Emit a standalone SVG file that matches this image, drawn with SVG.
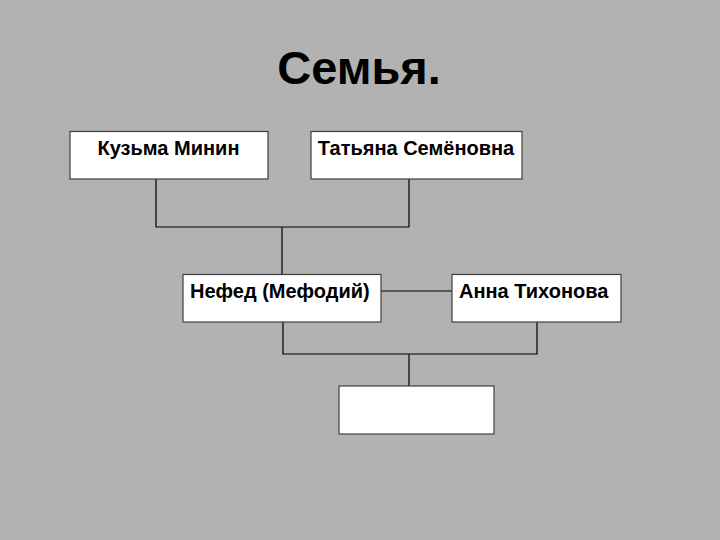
<svg xmlns="http://www.w3.org/2000/svg" width="720" height="540" viewBox="0 0 720 540">
<style>
.box{fill:#ffffff;stroke:#404040;stroke-width:1.2}
.lbl{font-family:"Liberation Sans",Arial,sans-serif;font-weight:bold;font-size:20px;fill:#000}
.ttl{font-family:"Liberation Sans",Arial,sans-serif;font-weight:bold;font-size:47px;fill:#000}
.con{fill:none;stroke:#000;stroke-width:1.2}
</style>
<rect x="0" y="0" width="720" height="540" fill="#b2b2b2"/>
<text class="ttl" x="359" y="84" text-anchor="middle">Семья.</text>
<g id="connectors">
<polyline class="con" points="156,179 156,227 409,227 409,179"/>
<line class="con" x1="282" y1="227" x2="282" y2="275"/>
<line class="con" x1="381" y1="291" x2="452" y2="291"/>
<polyline class="con" points="283,322 283,354 537,354 537,322"/>
<line class="con" x1="409" y1="354" x2="409" y2="386"/>
</g>
<g id="kuzma">
<rect class="box" x="70" y="131.5" width="198" height="47.5"/>
<text class="lbl" x="168.5" y="155" text-anchor="middle">Кузьма Минин</text>
</g>
<g id="tatyana">
<rect class="box" x="311" y="131.5" width="211" height="47.5"/>
<text class="lbl" x="416" y="155" text-anchor="middle">Татьяна Семёновна</text>
</g>
<g id="nefed">
<rect class="box" x="183" y="274.5" width="198" height="47.5"/>
<text class="lbl" x="190" y="298">Нефед (Мефодий)</text>
</g>
<g id="anna">
<rect class="box" x="452" y="274.5" width="169" height="47.5"/>
<text class="lbl" x="459" y="298">Анна Тихонова</text>
</g>
<g id="child">
<rect class="box" x="339" y="386" width="155" height="48"/>
</g>
</svg>
